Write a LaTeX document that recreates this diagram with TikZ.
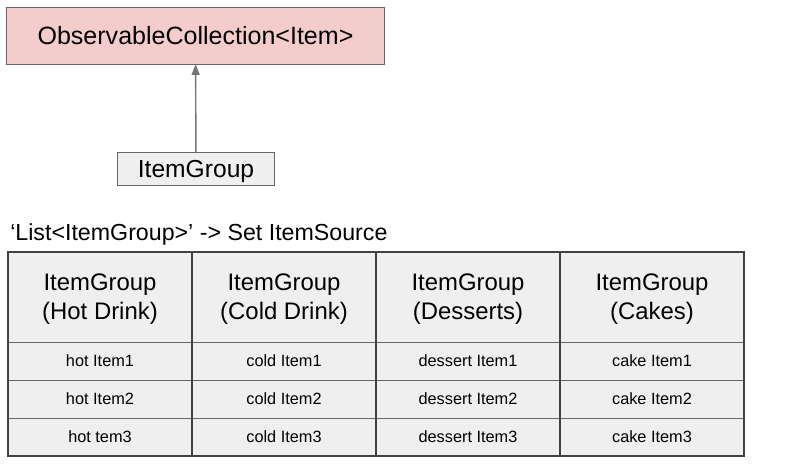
\documentclass[tikz,border=0pt]{standalone}
\usepackage{fontspec}
\setmainfont{Liberation Sans}
\usetikzlibrary{arrows.meta,positioning}
\definecolor{pinkfill}{HTML}{F4CCCC}
\definecolor{cellfill}{HTML}{EFEFEF}
\definecolor{boxline}{HTML}{666666}
\definecolor{gridline}{HTML}{434343}
\definecolor{arrowgray}{HTML}{757575}

\begin{document}
\begin{tikzpicture}[x=0.025cm, y=-0.025cm,
  coll/.style={draw=boxline, line width=0.7pt, fill=pinkfill, minimum width=9.425cm, minimum height=1.425cm, inner sep=0pt, outer sep=0pt, font=\fontsize{17.8}{21}\selectfont},
  grpbox/.style={draw=boxline, line width=0.7pt, fill=cellfill, minimum width=3.9cm, minimum height=0.825cm, inner sep=0pt, outer sep=0pt, text depth=0pt, font=\fontsize{17.5}{21}\selectfont},
  head/.style={draw=boxline, line width=0.7pt, fill=cellfill, minimum width=4.6cm, minimum height=2.25cm, inner sep=0pt, outer sep=0pt, align=center, text depth=0pt, font=\fontsize{17}{20.5}\selectfont},
  cell/.style={draw=boxline, line width=0.7pt, fill=cellfill, minimum width=4.6cm, minimum height=0.95cm, inner sep=0pt, outer sep=0pt, text depth=0pt, font=\fontsize{11.6}{14}\selectfont},
  frame/.style={draw=gridline, line width=1.4pt},
  arrow/.style={-{Triangle[width=5.7pt, length=7.8pt]}, draw=arrowgray, fill=arrowgray, line width=1pt}
]
\useasboundingbox (0,0) rectangle (796,469);
\node[coll] (coll) at (195.5,35.5) {ObservableCollection<Item>};
\node[grpbox] (grp) at (196,168.5) {ItemGroup};
\draw[arrow] (grp) -- (coll);
\node[anchor=base west, inner sep=0pt, font=\fontsize{16.5}{20}\selectfont] (src) at (10,240) {‘List<ItemGroup>’ -> Set ItemSource};
% table of groups
\foreach \n/\grp/\ia/\ib/\ic [count=\i] in {hot/Hot Drink/hot Item1/hot Item2/hot tem3,
    cold/Cold Drink/cold Item1/cold Item2/cold Item3,
    dessert/Desserts/dessert Item1/dessert Item2/dessert Item3,
    cake/Cakes/cake Item1/cake Item2/cake Item3}{
  \node[head] (\n-h) at ({100+184*(\i-1)},297) {ItemGroup\\(\grp)};
  \node[cell, below=0pt of \n-h] (\n-1) {\ia};
  \node[cell, below=0pt of \n-1] (\n-2) {\ib};
  \node[cell, below=0pt of \n-2] (\n-3) {\ic};
}
\draw[frame] (hot-h.north west) rectangle (cake-3.south east);
\foreach \n in {hot,cold,dessert}
  \draw[frame] (\n-h.north east) -- (\n-3.south east);
\end{tikzpicture}
\end{document}
